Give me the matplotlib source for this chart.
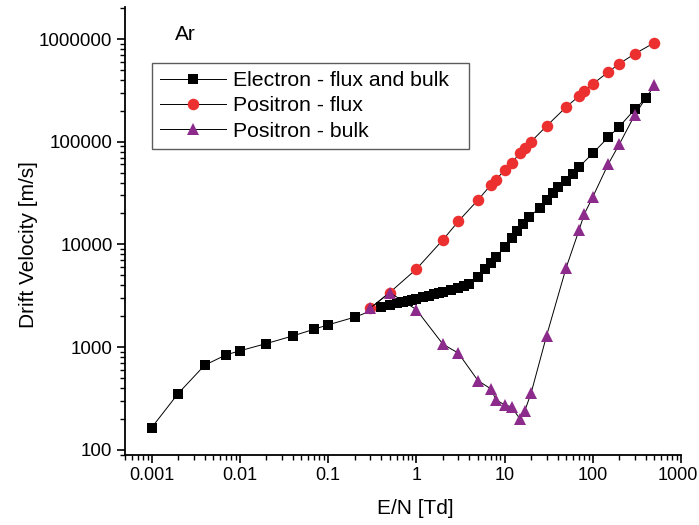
import matplotlib
matplotlib.use("Agg")
import matplotlib.pyplot as plt
from matplotlib.ticker import LogLocator, NullFormatter, FixedLocator, FixedFormatter
from matplotlib.transforms import ScaledTranslation

plt.rcParams['font.family'] = ['Liberation Sans', 'DejaVu Sans']

# Electron drift velocity (flux and bulk coincide)
e_field = [0.001, 0.002, 0.004, 0.007, 0.01, 0.02, 0.04, 0.07, 0.1, 0.2,
           0.4, 0.5, 0.6, 0.7, 0.8, 0.9, 1, 1.2, 1.4, 1.6, 1.8, 2, 2.5, 3, 3.5, 4,
           5, 6, 7, 8, 10, 12, 14, 16, 19, 25, 30, 35, 40, 50, 60, 70,
           100, 150, 200, 300, 400]
e_vel = [164, 353, 667, 841, 920, 1083, 1286, 1496, 1647, 1956,
         2450, 2560, 2660, 2740, 2810, 2880, 2960, 3070, 3170, 3260, 3340, 3420, 3580, 3740, 3900, 4100,
         4800, 5740, 6560, 7500, 9520, 11480, 13530, 15830, 18650, 22500, 27100, 31900, 35900, 41700, 48500, 56800,
         77100, 110600, 140300, 207000, 264800]

# Positron flux drift velocity
pf_field = [0.3, 0.5, 1, 2, 3, 5, 7, 8, 10, 12, 15, 17, 20, 30, 50, 70, 80, 100, 150, 200, 300, 500]
pf_vel = [2390, 3400, 5740, 11060, 16800, 27100, 37900, 42400, 53100, 62500, 77200, 86300, 100200,
          142300, 217900, 278700, 311700, 364700, 477500, 575000, 719000, 920000]

# Positron bulk drift velocity
pb_field = [0.3, 0.5, 1, 2, 3, 5, 7, 8, 10, 12, 15, 17, 20, 30, 50, 70, 80, 100, 150, 200, 300, 500]
pb_vel = [2390, 3400, 2320, 1069, 873, 472, 392, 307, 274, 262, 199, 241, 356,
          1295, 5950, 13830, 19670, 28970, 60730, 94400, 183300, 354400]

x_ticks = [0.001, 0.01, 0.1, 1, 10, 100, 1000]
x_labels = ["0.001", "0.01", "0.1", "1", "10", "100", "1000"]
y_ticks = [100, 1000, 10000, 100000, 1000000]
y_labels = ["100", "1000", "10000", "100000", "1000000"]

fig = plt.figure(figsize=(6.99, 5.25), dpi=100)
ax = fig.add_axes([125 / 699, 70 / 525, 556 / 699, 448 / 525])

ax.plot(e_field, e_vel, color='black', lw=0.7, marker='s', ms=7.5,
        mfc='black', mec='black', mew=0, label='Electron - flux and bulk', zorder=3)
ax.plot(pf_field, pf_vel, color='black', lw=0.7, marker='o', ms=8.3,
        mfc='#ec2f2f', mec='#ec2f2f', mew=0, label='Positron - flux', zorder=4)
ax.plot(pb_field, pb_vel, color='black', lw=0.7, marker='^', ms=8.5,
        mfc='#8c2b8c', mec='#8c2b8c', mew=0, label='Positron - bulk', zorder=5)

ax.set_xscale('log')
ax.set_yscale('log')
ax.set_xlim(5e-4, 1000)
ax.set_ylim(89, 2.05e6)

ax.xaxis.set_major_locator(FixedLocator(x_ticks))
ax.xaxis.set_major_formatter(FixedFormatter(x_labels))
ax.yaxis.set_major_locator(FixedLocator(y_ticks))
ax.yaxis.set_major_formatter(FixedFormatter(y_labels))
for axis in (ax.xaxis, ax.yaxis):
    axis.set_minor_locator(LogLocator(base=10, subs=range(2, 10), numticks=20))
    axis.set_minor_formatter(NullFormatter())

ax.spines['top'].set_visible(False)
ax.spines['right'].set_visible(False)
for s in ('left', 'bottom'):
    ax.spines[s].set_linewidth(1.3)
ax.tick_params(which='major', direction='out', length=6, width=1.2, labelsize=13.5, pad=3)
ax.tick_params(axis='x', which='major', labelsize=13)
ax.tick_params(which='minor', direction='out', length=3.5, width=1.0)

# keep the rightmost x tick label inside the canvas
last = ax.get_xticklabels()[-1]
last.set_transform(last.get_transform() + ScaledTranslation(-3 / 100, 0, fig.dpi_scale_trans))

ax.set_xlabel('E/N [Td]', fontsize=15)
ax.set_ylabel('Drift Velocity [m/s]', fontsize=15)
ax.xaxis.set_label_coords(0.523, -0.098)
ax.yaxis.set_label_coords(-0.156, 0.469)

ax.text(0.09, 0.9375, 'Ar', transform=ax.transAxes, fontsize=15, va='center', ha='left')

leg = ax.legend(loc='upper left', bbox_to_anchor=(0.0486, 0.5, 0.570, 0.375), mode='expand',
                fontsize=15.3, frameon=True, fancybox=False, handlelength=3.1, handletextpad=0.35,
                labelspacing=0.3, borderpad=0.38, borderaxespad=0)
leg.get_frame().set_edgecolor('#333333')
leg.get_frame().set_linewidth(1.0)

fig.savefig('out.png', dpi=100)
